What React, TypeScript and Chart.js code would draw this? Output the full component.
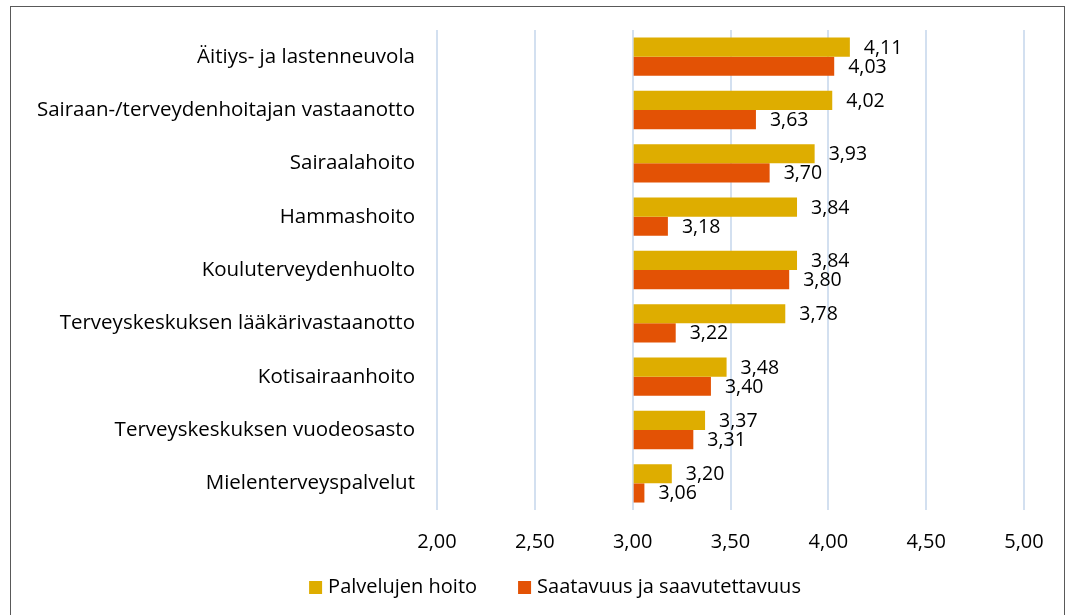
import React, { useEffect, useRef } from "react";
import { Chart, registerables } from "chart.js";

Chart.register(...registerables);

const categories = [
  "Äitiys- ja lastenneuvola",
  "Sairaan-/terveydenhoitajan vastaanotto",
  "Sairaalahoito",
  "Hammashoito",
  "Kouluterveydenhuolto",
  "Terveyskeskuksen lääkärivastaanotto",
  "Kotisairaanhoito",
  "Terveyskeskuksen vuodeosasto",
  "Mielenterveyspalvelut",
];
const palvelujenHoito = [4.11, 4.02, 3.93, 3.84, 3.84, 3.78, 3.48, 3.37, 3.2];
const saatavuus = [4.03, 3.63, 3.7, 3.18, 3.8, 3.22, 3.4, 3.31, 3.06];
const seriesNames = ["Palvelujen hoito", "Saatavuus ja saavutettavuus"];
const seriesColors = ["#DEAD00", "#E35205"];
const xMin = 2;
const xMax = 5;
const xStep = 0.5;
const barBase = 3;

const FONT = "'Open Sans', sans-serif";
const fmt = (v: number) => v.toFixed(2).replace(".", ",");

const labelPlugin = {
  id: "valueLabels",
  afterDatasetsDraw(chart: any) {
    const ctx = chart.ctx;
    ctx.save();
    ctx.font = `19.5px ${FONT}`;
    ctx.fillStyle = "#000000";
    ctx.textAlign = "left";
    ctx.textBaseline = "middle";
    chart.data.datasets.forEach((ds: any, i: number) => {
      const meta = chart.getDatasetMeta(i);
      meta.data.forEach((el: any, j: number) => {
        ctx.fillText(fmt(ds.data[j]), el.x + 14, el.y + 1);
      });
    });
    ctx.restore();
  },
};

const legendPlugin = {
  id: "bottomLegend",
  afterDraw(chart: any) {
    const ctx = chart.ctx;
    ctx.save();
    ctx.font = `20px ${FONT}`;
    ctx.textBaseline = "middle";
    ctx.textAlign = "left";
    const box = 13;
    const gap = 6;
    const itemGap = 41;
    const items = chart.data.datasets.map((ds: any) => ({
      text: ds.label,
      color: ds.backgroundColor,
      w: ctx.measureText(ds.label).width,
    }));
    const total =
      items.reduce((s: number, it: any) => s + box + gap + it.w, 0) +
      itemGap * (items.length - 1);
    let x = 555 - total / 2;
    const cy = 587.5;
    items.forEach((it: any) => {
      ctx.fillStyle = it.color;
      ctx.fillRect(x, cy - box / 2, box, box);
      ctx.fillStyle = "#000000";
      ctx.fillText(it.text, x + box + gap, cy);
      x += box + gap + it.w + itemGap;
    });
    ctx.restore();
  },
};

const borderPlugin = {
  id: "frame",
  beforeDraw(chart: any) {
    const ctx = chart.ctx;
    ctx.save();
    ctx.fillStyle = "#ffffff";
    ctx.fillRect(0, 0, chart.width, chart.height);
    ctx.strokeStyle = "#595959";
    ctx.lineWidth = 1;
    ctx.strokeRect(10.5, 6.5, 1054, 700);
    ctx.restore();
  },
};

export default function App() {
  const ref = useRef<HTMLCanvasElement>(null);
  useEffect(() => {
    document.body.style.margin = "0";
    const chart = new Chart(ref.current!, {
      type: "bar",
      data: {
        labels: categories,
        datasets: [
          {
            label: seriesNames[0],
            data: palvelujenHoito,
            backgroundColor: seriesColors[0],
            base: barBase,
            categoryPercentage: 0.72,
            barPercentage: 1,
          } as any,
          {
            label: seriesNames[1],
            data: saatavuus,
            backgroundColor: seriesColors[1],
            base: barBase,
            categoryPercentage: 0.72,
            barPercentage: 1,
          } as any,
        ],
      },
      options: {
        indexAxis: "y",
        responsive: false,
        animation: false,
        layout: { padding: { top: 30, right: 46, left: 0, bottom: 55 } },
        scales: {
          x: {
            min: xMin,
            max: xMax,
            ticks: {
              stepSize: xStep,
              callback: (v: any) => fmt(Number(v)),
              font: { family: FONT, size: 20 },
              color: "#000000",
              padding: 20,
            },
            grid: { color: "#D3E0F0", lineWidth: 2, drawTicks: false },
            border: { display: false },
            afterFit: (s: any) => {
              s.height = 50;
            },
          },
          y: {
            ticks: {
              font: { family: FONT, size: 20.5 },
              color: "#000000",
              padding: 22,
            },
            grid: { display: false, drawTicks: false },
            border: { display: false },
            afterFit: (s: any) => {
              s.width = 437;
              s.paddingTop = 0;
              s.paddingBottom = 0;
            },
          },
        },
        plugins: {
          legend: { display: false },
          tooltip: { enabled: false },
        },
      },
      plugins: [labelPlugin, legendPlugin, borderPlugin],
    });
    return () => chart.destroy();
  }, []);
  return <canvas ref={ref} width={1070} height={615} style={{ display: "block" }} />;
}
